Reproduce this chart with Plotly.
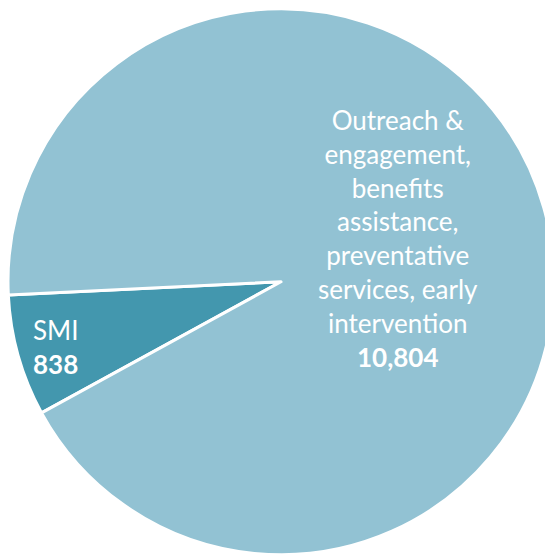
import plotly.graph_objects as go

labels = ["SMI", "Outreach & engagement, benefits assistance, preventative services, early intervention"]
label_lines = [["SMI"], ["Outreach &", "engagement,", "benefits", "assistance,", "preventative", "services, early", "intervention"]]
values = [838, 10804]
colors = ["#4397AE", "#92C2D3"]

W, H = 553, 555
OFF = 8  # page body margin offset

fig = go.Figure(go.Pie(
    labels=labels,
    values=values,
    sort=False,
    direction="clockwise",
    rotation=241.3,
    marker=dict(colors=colors, line=dict(color="white", width=3)),
    textinfo="none",
    hoverinfo="label+value",
    showlegend=False,
    domain=dict(x=[0.0, 546 / W], y=[1 - 547 / H, 1 - 0.5 / H]),
))

font_family = "Lato, 'Open Sans', sans-serif"

# SMI label
fig.add_annotation(
    x=(31 - OFF) / W, y=1 - (347 - OFF) / H, xref="paper", yref="paper",
    xanchor="left", yanchor="middle", align="left",
    text="<br>".join(label_lines[0]) + f"<br><b>{values[0]:,}</b>",
    showarrow=False, font=dict(family=font_family, size=26, color="white"),
)
# Big slice label
fig.add_annotation(
    x=(398 - OFF) / W, y=1 - (239 - OFF) / H, xref="paper", yref="paper",
    xanchor="center", yanchor="middle", align="center",
    text="<br>".join(label_lines[1]) + f"<br><b>{values[1]:,}</b>",
    showarrow=False, font=dict(family=font_family, size=26, color="white"),
)

fig.update_layout(
    width=W, height=H,
    margin=dict(l=0, r=0, t=0, b=0),
    paper_bgcolor="white", plot_bgcolor="white",
)

fig.write_html("out.html")
